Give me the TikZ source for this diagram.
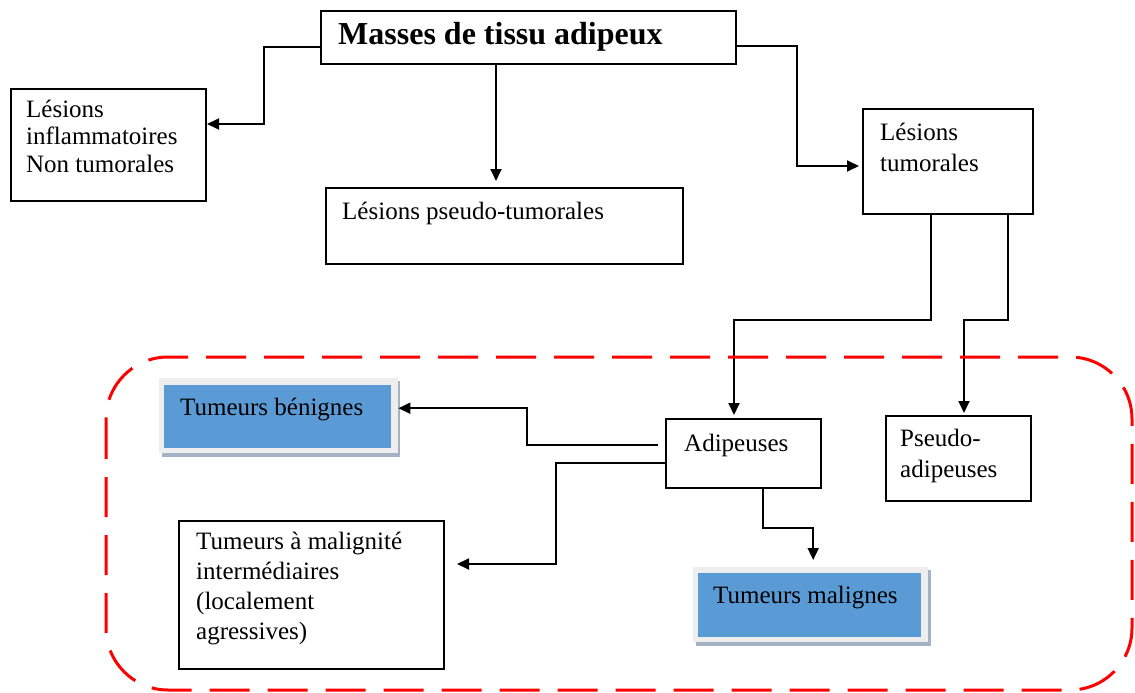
\documentclass[tikz,border=0pt]{standalone}
\usepackage{fontspec}
\setmainfont{Liberation Serif}
\usetikzlibrary{arrows.meta,calc}
\definecolor{boxblue}{RGB}{91,155,213}
\definecolor{framegray}{RGB}{238,238,238}
\definecolor{shadowgray}{RGB}{165,178,196}
\begin{document}
\begin{tikzpicture}[x=1pt,y=1pt,
  box/.style={draw=black,line width=2pt,inner sep=0pt,anchor=north west},
  txt/.style={inner sep=0pt,anchor=base west,align=left,font=\fontsize{25}{28}\selectfont},
  arr/.style={line width=1.8pt,-{Triangle[length=12pt,width=11pt]}},
  line/.style={line width=1.8pt}]
\useasboundingbox (0,0) rectangle (1135,-693);
% boxes
\node[box,minimum width=415,minimum height=53] (masses) at (320,-10) {};
\node[box,minimum width=195,minimum height=112] (infl) at (10,-88) {};
\node[box,minimum width=357,minimum height=76] (pseudo) at (325,-187) {};
\node[box,minimum width=170,minimum height=105] (tum) at (862,-108) {};
\node[box,minimum width=155,minimum height=69] (adip) at (665,-418) {};
\node[box,minimum width=145,minimum height=85] (padip) at (885,-415) {};
\node[box,minimum width=265,minimum height=148] (inter) at (178,-520) {};
% blue boxes with frame and shadow
\fill[shadowgray] (162,-450) rectangle (400,-457);
\fill[shadowgray] (396,-381) rectangle (400,-457);
\node[anchor=north west,inner sep=0pt,fill=framegray,minimum width=239,minimum height=75] (ben) at (159,-378) {};
\fill[boxblue] (164,-385) rectangle (391,-448);
\fill[shadowgray] (696,-639) rectangle (931,-646);
\fill[shadowgray] (927,-570) rectangle (931,-646);
\node[anchor=north west,inner sep=0pt,fill=framegray,minimum width=235,minimum height=75] (mal) at (693,-567) {};
\fill[boxblue] (698,-573) rectangle (921,-637);
% texts (multi-line nodes: base = last line)
\node[txt,font=\fontsize{32}{36}\selectfont\bfseries] (tmasses) at (338,-45) {Masses de tissu adipeux};
\node[txt,font=\fontsize{25}{27.5}\selectfont] (tinfl) at (26,-172) {Lésions\\inflammatoires\\Non tumorales};
\node[txt] (tpseudo) at (342,-219) {Lésions pseudo-tumorales};
\node[txt,font=\fontsize{25}{31}\selectfont] (ttum) at (880,-171) {Lésions\\tumorales};
\node[txt] (tadip) at (684,-451) {Adipeuses};
\node[txt,font=\fontsize{25}{31}\selectfont] (tpadip) at (900,-477) {Pseudo-\\adipeuses};
\node[txt] (tben) at (180,-415) {Tumeurs bénignes};
\node[txt] (tmal) at (713,-603) {Tumeurs malignes};
\node[txt,font=\fontsize{25}{30}\selectfont] (tinter) at (196,-639) {Tumeurs à malignité\\intermédiaires\\(localement\\agressives)};
% connectors
\draw[arr] ([yshift=-9.5]masses.west) -- ++(-56,0) |- ([yshift=21]infl.east);
\draw[arr,shorten >=6pt] ([xshift=-32.5]masses.south) -- ([xshift=-8.5]pseudo.north);
\draw[arr,shorten >=3pt] ([yshift=-8.5]masses.east) -- ++(60,0) |- ([yshift=-4.5]tum.west);
\draw[arr,shorten >=3pt] ([xshift=-17]tum.south) -- ++(0,-105) -| ([xshift=-9.5]adip.north);
\draw[arr,shorten >=2pt] ([xshift=60]tum.south) -- ++(0,-105) -| ([xshift=5.5]padip.north);
\draw[arr] ([xshift=-7,yshift=8.5]adip.west) -- ++(-131,0) |- ([yshift=7.5]ben.east);
\draw[arr,shorten >=12pt] ([yshift=-9.5]adip.west) -- ++(-109,0) |- ([yshift=31]inter.east);
\draw[arr,shorten >=7pt] ([xshift=19.5]adip.south) -- ++(0,-39) -| ([xshift=2.5]mal.north);
% red dashed frame
\draw[red,line width=3pt,dash pattern=on 40pt off 18pt,rounded corners=62pt] (106,-357) rectangle (1132,-690);
\end{tikzpicture}
\end{document}
